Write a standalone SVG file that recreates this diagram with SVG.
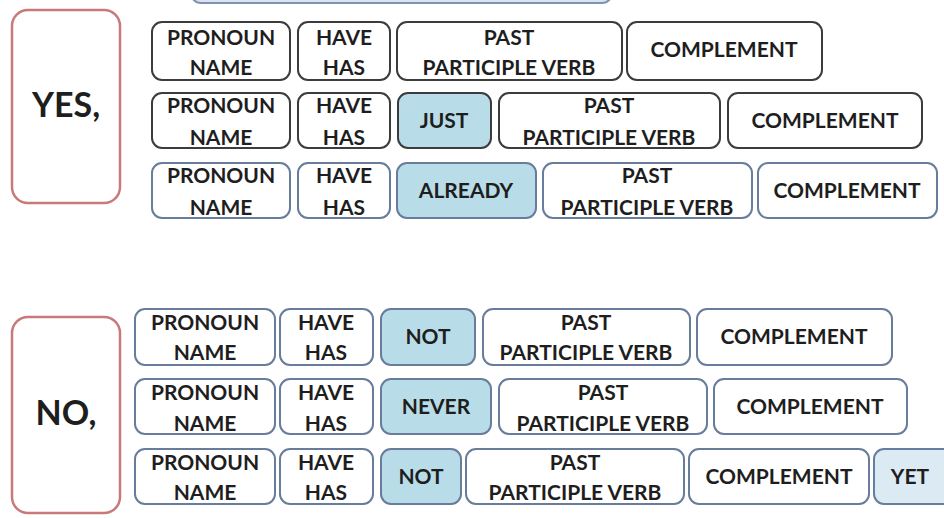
<svg xmlns="http://www.w3.org/2000/svg" width="944" height="518" viewBox="0 0 944 518">
<style>
.bk{fill:#fff;stroke:#3c3c3c;stroke-width:2}
.bl{fill:#fff;stroke:#687c9c;stroke-width:2}
.hbk{fill:#b9dde8;stroke:#3c3c3c;stroke-width:2}
.hbl{fill:#b9dde8;stroke:#687c9c;stroke-width:2}
.side{fill:#fff;stroke:#c87a7a;stroke-width:2.5}
text{font-family:Lato,"Open Sans",sans-serif;font-weight:bold;font-size:21px;fill:#1e1e1e;text-anchor:middle}
.big{font-size:34px}
</style>
<rect width="944" height="518" fill="#fff"/>
<g id="top-strip"><rect x="191" y="-40" width="421" height="43" rx="10" fill="#d9e4f0" stroke="#7f93b0" stroke-width="2"/></g>

<g id="yes"><rect class="side" x="12" y="10" width="108" height="193" rx="16"/><text class="big" x="66" y="117">YES,</text></g>

<!-- Row 1 -->
<g id="r1-pronoun"><rect class="bk" x="152" y="22" width="138" height="58" rx="10"/><text x="221" y="45">PRONOUN</text><text x="221" y="75">NAME</text></g>
<g id="r1-have"><rect class="bk" x="298" y="22" width="92" height="58" rx="10"/><text x="344" y="45">HAVE</text><text x="344" y="75">HAS</text></g>
<g id="r1-past"><rect class="bk" x="397" y="22" width="225" height="58" rx="10"/><text x="509" y="45">PAST</text><text x="509" y="75">PARTICIPLE VERB</text></g>
<g id="r1-comp"><rect class="bk" x="627" y="22" width="195" height="58" rx="10"/><text x="724" y="57">COMPLEMENT</text></g>

<!-- Row 2 -->
<g id="r2-pronoun"><rect class="bk" x="152" y="93" width="138" height="55" rx="10"/><text x="221" y="113">PRONOUN</text><text x="221" y="145">NAME</text></g>
<g id="r2-have"><rect class="bk" x="298" y="93" width="92" height="55" rx="10"/><text x="344" y="113">HAVE</text><text x="344" y="145">HAS</text></g>
<g id="r2-just"><rect class="hbk" x="398" y="93" width="93" height="55" rx="10"/><text x="444" y="128">JUST</text></g>
<g id="r2-past"><rect class="bk" x="499" y="93" width="221" height="55" rx="10"/><text x="609" y="113">PAST</text><text x="609" y="145">PARTICIPLE VERB</text></g>
<g id="r2-comp"><rect class="bk" x="728" y="93" width="194" height="55" rx="10"/><text x="825" y="128">COMPLEMENT</text></g>

<!-- Row 3 -->
<g id="r3-pronoun"><rect class="bl" x="152" y="163" width="138" height="55" rx="10"/><text x="221" y="183">PRONOUN</text><text x="221" y="215">NAME</text></g>
<g id="r3-have"><rect class="bl" x="298" y="163" width="92" height="55" rx="10"/><text x="344" y="183">HAVE</text><text x="344" y="215">HAS</text></g>
<g id="r3-already"><rect class="hbl" x="397" y="163" width="139" height="55" rx="10"/><text x="466" y="198">ALREADY</text></g>
<g id="r3-past"><rect class="bl" x="543" y="163" width="209" height="55" rx="10"/><text x="647" y="183">PAST</text><text x="647" y="215">PARTICIPLE VERB</text></g>
<g id="r3-comp"><rect class="bl" x="758" y="163" width="179" height="55" rx="10"/><text x="847" y="198">COMPLEMENT</text></g>

<g id="no"><rect class="side" x="12" y="317" width="108" height="196" rx="16"/><text class="big" x="66" y="425">NO,</text></g>

<!-- Row 4 -->
<g id="r4-pronoun"><rect class="bl" x="135" y="309" width="140" height="56" rx="10"/><text x="205" y="330">PRONOUN</text><text x="205" y="360">NAME</text></g>
<g id="r4-have"><rect class="bl" x="280" y="309" width="93" height="56" rx="10"/><text x="326" y="330">HAVE</text><text x="326" y="360">HAS</text></g>
<g id="r4-not"><rect class="hbl" x="381" y="309" width="94" height="56" rx="10"/><text x="428" y="344">NOT</text></g>
<g id="r4-past"><rect class="bl" x="483" y="309" width="207" height="56" rx="10"/><text x="586" y="330">PAST</text><text x="586" y="360">PARTICIPLE VERB</text></g>
<g id="r4-comp"><rect class="bl" x="697" y="309" width="195" height="56" rx="10"/><text x="794" y="344">COMPLEMENT</text></g>

<!-- Row 5 -->
<g id="r5-pronoun"><rect class="bl" x="135" y="379" width="140" height="55" rx="10"/><text x="205" y="400">PRONOUN</text><text x="205" y="431">NAME</text></g>
<g id="r5-have"><rect class="bl" x="280" y="379" width="93" height="55" rx="10"/><text x="326" y="400">HAVE</text><text x="326" y="431">HAS</text></g>
<g id="r5-never"><rect class="hbl" x="381" y="379" width="110" height="55" rx="10"/><text x="436" y="414">NEVER</text></g>
<g id="r5-past"><rect class="bl" x="499" y="379" width="208" height="55" rx="10"/><text x="603" y="400">PAST</text><text x="603" y="431">PARTICIPLE VERB</text></g>
<g id="r5-comp"><rect class="bl" x="714" y="379" width="193" height="55" rx="10"/><text x="810" y="414">COMPLEMENT</text></g>

<!-- Row 6 -->
<g id="r6-pronoun"><rect class="bl" x="135" y="449" width="140" height="55" rx="10"/><text x="205" y="470">PRONOUN</text><text x="205" y="500">NAME</text></g>
<g id="r6-have"><rect class="bl" x="280" y="449" width="93" height="55" rx="10"/><text x="326" y="470">HAVE</text><text x="326" y="500">HAS</text></g>
<g id="r6-not"><rect class="hbl" x="381" y="449" width="80" height="55" rx="10"/><text x="421" y="484">NOT</text></g>
<g id="r6-past"><rect class="bl" x="466" y="449" width="218" height="55" rx="10"/><text x="575" y="470">PAST</text><text x="575" y="500">PARTICIPLE VERB</text></g>
<g id="r6-comp"><rect class="bl" x="689" y="449" width="180" height="55" rx="10"/><text x="779" y="484">COMPLEMENT</text></g>
<g id="r6-yet"><rect x="874" y="449" width="80" height="55" rx="10" fill="#dcebf3" stroke="#687c9c" stroke-width="2"/><text x="910" y="484">YET</text></g>
</svg>
